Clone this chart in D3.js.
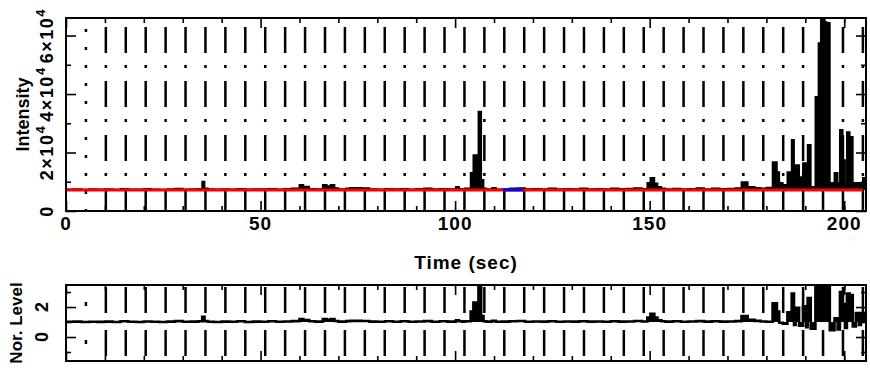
<!DOCTYPE html>
<html><head><meta charset="utf-8">
<script src="https://cdn.jsdelivr.net/npm/d3@7/dist/d3.min.js"></script>
<style>
body{margin:0;background:#fff}
text{font-family:"Liberation Sans",Arial,Helvetica,sans-serif;font-weight:bold;fill:#000}
</style>
</head><body>
<svg id="chart" width="870" height="371"></svg>
<script>
// ---- data ----
const times = [0,2,4,6,8,10,12,14,16,18,20,22,24,26,28,30,32,34,35,35.6,36.5,38,40,42,44,46,48,50,52,54,56,58,60,61,62.5,64,66,67,68,69,70,72,73,74.5,76,78,80,82,84,86,88,90,92,94,96,98,100.2,101,101.8,102.5,104,104.7,106,106.7,107.3,108,109.5,110.5,112,114,116,118,120,122,124,126,128,130,132,134,136,138,140,142,144,146,148,149.4,150.2,151.2,152,153,154,156,158,160,162,164,166,168,170,172,173.6,175.2,177,178.5,180,181.6,182.7,183.3,184.2,185.4,186.5,187.1,187.5,188.4,189.4,190.2,190.6,191.4,192.6,193.4,194,195,195.5,196.3,197.5,198.3,198.9,199.6,200.2,200.7,201.4,202.2,203,203.8,204.3,204.8];
const intensity = [7400,7500,7300,7450,7350,7500,7300,7600,7400,7350,7550,7400,7300,7500,7650,7400,7500,7600,10000,7700,7450,7350,7500,7400,7600,7350,7500,7450,7600,7400,7550,7700,8900,8300,7600,7500,8900,8500,8900,7800,7500,7700,7900,7900,7800,7500,7400,7600,7450,7600,7400,7550,7700,7450,7600,7500,8200,7600,7500,7700,13000,19100,34000,10600,7700,7500,7900,7400,7500,7700,7800,7450,7600,7500,7700,7450,7600,7500,7700,7500,7600,7450,7700,7550,7650,7800,7600,9600,11300,9400,8200,7700,7500,7650,7450,7600,7800,7500,7700,7550,7650,7800,9900,8200,7900,7700,8000,16700,13300,9600,8900,13300,24300,13000,15700,11600,16400,9500,22600,8200,39000,57400,68000,64600,64300,9600,13000,9600,27700,17400,9600,27000,25300,9600,9600,9600,9600,11300];
const norLevel = [1.02,1.03,1.00,1.02,1.01,1.03,1.00,1.05,1.02,1.00,1.04,1.02,1.00,1.03,1.06,1.02,1.03,1.05,1.35,1.06,1.02,1.00,1.03,1.02,1.05,1.00,1.03,1.02,1.05,1.02,1.04,1.06,1.20,1.13,1.05,1.03,1.20,1.15,1.20,1.07,1.03,1.06,1.08,1.08,1.07,1.03,1.02,1.05,1.02,1.05,1.02,1.04,1.06,1.02,1.05,1.03,1.12,1.05,1.03,1.05,1.70,2.30,4.50,1.40,1.05,1.03,1.08,1.02,1.03,1.05,1.07,1.02,1.04,1.03,1.05,1.02,1.04,1.03,1.05,1.03,1.04,1.02,1.05,1.03,1.04,1.07,1.04,1.30,1.55,1.30,1.12,1.05,1.03,1.05,1.02,1.04,1.06,1.03,1.05,1.03,1.04,1.06,1.40,1.15,1.08,1.04,1.02,2.25,1.70,0.95,0.88,1.65,2.90,0.80,1.95,0.75,2.05,0.65,2.60,0.55,3.60,4.50,5.00,5.00,4.50,0.45,1.25,0.50,3.00,2.20,0.60,2.90,2.80,0.70,1.60,0.80,1.60,1.60];
const timeEnd = 205.6;
const baselineLevel = 7200;
const norReference = 1;
const baselineSpan = [0, 204.8];
const blueSpan = [112.3, 117.5];
const markerStep = 5.12;
const markerCount = 40;
const xMajorTicks = [0,50,100,150,200];
const xMinorTicks = [10,20,30,40,60,70,80,90,110,120,130,140,160,170,180,190,200];
const yMajorTicks = [0,20000,40000,60000];
const yMajorLabels = [["0",""],["2×10","4"],["4×10","4"],["6×10","4"]];
const yMinorTicks = [10000,30000,50000];
const norMajorTicks = [0,2];
const norMajorLabels = ["0","2"];
const norMinorTicks = [-1,1,3];

// ---- layout ----
const L = 66, R = 866;
const P1 = {top:18, bottom:211};
const P2 = {top:285, bottom:361};
const svg = d3.select("#chart");
const x = d3.scaleLinear().domain([0, 205.6]).range([L, R]);
const y1 = d3.scaleLinear().domain([0, 66000]).range([P1.bottom, P1.top]);
const y2 = d3.scaleLinear().domain([-1.6, 3.47]).range([P2.bottom, P2.top]);

const defs = svg.append("defs");
defs.append("clipPath").attr("id","c1").append("rect").attr("x",L).attr("y",P1.top).attr("width",R-L).attr("height",P1.bottom-P1.top);
defs.append("clipPath").attr("id","c2").append("rect").attr("x",L).attr("y",P2.top).attr("width",R-L).attr("height",P2.bottom-P2.top);

const series1 = times.map((t,i)=>({t, v:intensity[i]})).concat([{t:timeEnd, v:intensity[intensity.length-1]}]);
const series2 = times.map((t,i)=>({t, v:norLevel[i]})).concat([{t:timeEnd, v:norLevel[norLevel.length-1]}]);
const markers = d3.range(1, markerCount+1).map(k => k*markerStep);

function panel(P, ys, clip, series, base, lineWidth, dashMain, offMain, dashFirst, offFirst) {
  const g = svg.append("g");
  const cg = g.append("g").attr("clip-path", `url(#${clip})`);
  cg.selectAll("line").data(markers).join("line")
    .attr("x1", d=>x(d)).attr("x2", d=>x(d))
    .attr("y1", P.top).attr("y2", P.bottom)
    .attr("stroke","#000").attr("stroke-width",2.5)
    .attr("stroke-dasharray",(d,i)=> i===0 ? dashFirst : dashMain)
    .attr("stroke-dashoffset",(d,i)=> i===0 ? offFirst : offMain);
  const area = d3.area().x(d=>x(d.t)).y0(ys(base)).y1(d=>ys(d.v)).curve(d3.curveStepAfter);
  const line = d3.line().x(d=>x(d.t)).y(d=>ys(d.v)).curve(d3.curveStepAfter);
  const dg = g.append("g").attr("clip-path", `url(#${clip})`);
  dg.append("path").datum(series).attr("d", area).attr("fill","#000");
  dg.append("path").datum(series).attr("d", line).attr("fill","none").attr("stroke","#000").attr("stroke-width",lineWidth);
  return g;
}

panel(P1, y1, "c1", series1, baselineLevel, 1.8, "26,12,3,13", 45, "3,15", 7);
svg.append("line").attr("x1",x(baselineSpan[0])).attr("x2",x(baselineSpan[1]))
  .attr("y1",y1(baselineLevel)).attr("y2",y1(baselineLevel))
  .attr("stroke","#ff0000").attr("stroke-width",3);
svg.append("line").attr("x1",x(blueSpan[0])).attr("x2",x(blueSpan[1]))
  .attr("y1",y1(baselineLevel)).attr("y2",y1(baselineLevel))
  .attr("stroke","#0000ff").attr("stroke-width",3);

panel(P2, y2, "c2", series2, norReference, 2.6, "26,17", 41, "4,34", -17);

function ticks(P, ys, yMaj, yMin) {
  const fmt = () => "";
  const add = (gen, tr) => { const a = svg.append("g").attr("transform", tr).call(gen); a.select(".domain").remove(); a.selectAll("line").attr("stroke-width",1.6); };
  add(d3.axisBottom(x).tickValues(xMajorTicks).tickSize(-10).tickFormat(fmt), `translate(0,${P.bottom})`);
  add(d3.axisBottom(x).tickValues(xMinorTicks).tickSize(-5).tickFormat(fmt), `translate(0,${P.bottom})`);
  add(d3.axisTop(x).tickValues(xMajorTicks).tickSize(-10).tickFormat(fmt), `translate(0,${P.top})`);
  add(d3.axisTop(x).tickValues(xMinorTicks).tickSize(-5).tickFormat(fmt), `translate(0,${P.top})`);
  add(d3.axisLeft(ys).tickValues(yMaj).tickSize(-10).tickFormat(fmt), `translate(${L},0)`);
  add(d3.axisLeft(ys).tickValues(yMin).tickSize(-5).tickFormat(fmt), `translate(${L},0)`);
  add(d3.axisRight(ys).tickValues(yMaj).tickSize(-10).tickFormat(fmt), `translate(${R},0)`);
  add(d3.axisRight(ys).tickValues(yMin).tickSize(-5).tickFormat(fmt), `translate(${R},0)`);
  svg.append("rect").attr("x",L).attr("y",P.top).attr("width",R-L).attr("height",P.bottom-P.top)
    .attr("fill","none").attr("stroke","#000").attr("stroke-width",2);
}
ticks(P1, y1, yMajorTicks, yMinorTicks);
ticks(P2, y2, norMajorTicks, norMinorTicks);

// x labels
svg.append("g").selectAll("text").data(xMajorTicks).join("text")
  .attr("x", d=>x(d)).attr("y", 230).attr("text-anchor","middle")
  .attr("font-size",19).attr("letter-spacing",1).text(d=>d);
svg.append("text").attr("x",(L+R)/2).attr("y",269).attr("text-anchor","middle")
  .attr("font-size",19).attr("letter-spacing",1).text("Time (sec)");

// y labels panel 1
const yl = svg.append("g").selectAll("text").data(yMajorTicks).join("text")
  .attr("transform", d=>`translate(53,${y1(d)}) rotate(-90)`)
  .attr("text-anchor","middle").attr("font-size",18).attr("letter-spacing",1.5);
yl.each(function(d,i){
  const t = d3.select(this);
  t.append("tspan").text(yMajorLabels[i][0]);
  if (yMajorLabels[i][1]) t.append("tspan").attr("dy",-8).attr("font-size",13).text(yMajorLabels[i][1]);
});
svg.append("text").attr("transform",`translate(29,${(P1.top+P1.bottom)/2}) rotate(-90)`)
  .attr("text-anchor","middle").attr("font-size",18).text("Intensity");

// y labels panel 2
svg.append("g").selectAll("text").data(norMajorTicks).join("text")
  .attr("transform", (d)=>`translate(48,${y2(d)}) rotate(-90)`)
  .attr("text-anchor","middle").attr("font-size",18).text((d,i)=>norMajorLabels[i]);
svg.append("text").attr("transform",`translate(22,${(P2.top+P2.bottom)/2}) rotate(-90)`)
  .attr("text-anchor","middle").attr("font-size",17).text("Nor. Level");
</script>
</body></html>
